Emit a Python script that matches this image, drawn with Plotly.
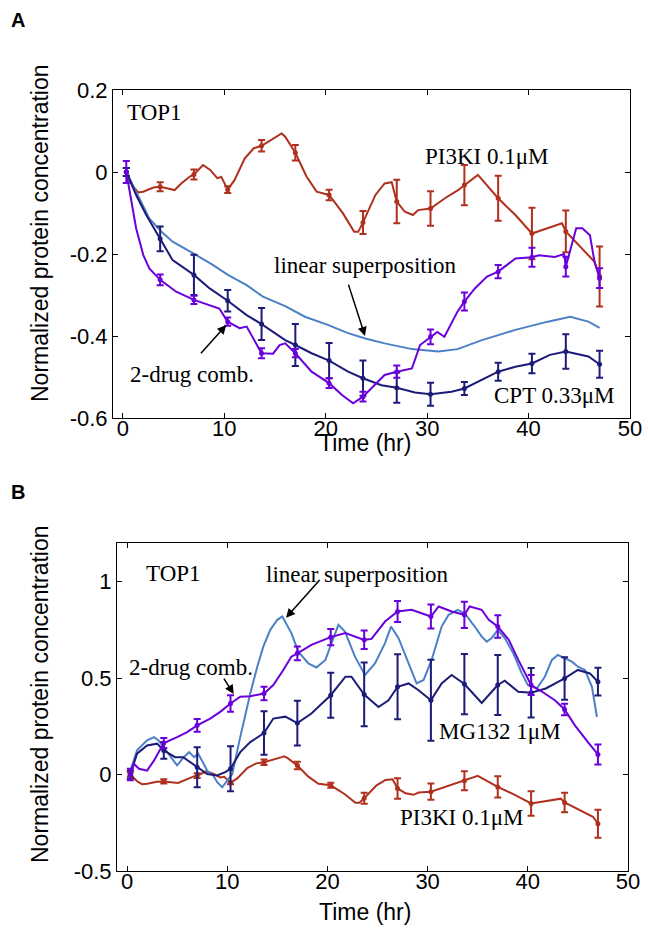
import plotly.graph_objects as go

# ---------------- data ----------------
t_err = [0.33, 3.67, 7.0, 10.33, 13.67, 17.0, 20.33, 23.67, 27.0, 30.33, 33.67, 37.0, 40.33, 43.67, 47.0]

# PI3KI 0.1uM (same in both panels)
pi3k_t = [0.33, 1.0, 1.5, 2.0, 3.0, 3.67, 5.1, 5.75, 6.6, 7.0, 7.9, 8.6, 9.3, 9.7, 10.33, 11.0, 12.0, 12.9,
          13.67, 15.45, 15.65, 16.0, 17.0, 18.1, 19.1, 20.33, 21.7, 22.8, 23.2, 23.67, 24.9, 25.8, 26.5, 27.0,
          27.8, 28.6, 29.1, 30.33, 31.75, 33.0, 33.67, 35.0, 37.0, 38.7, 40.33, 41.9, 43.3, 43.67, 45.2, 46.5, 47.0]
pi3k_v = [0.0, -0.035, -0.05, -0.048, -0.038, -0.036, -0.044, -0.028, -0.011, -0.006, 0.017, 0.005, -0.015,
          -0.012, -0.043, -0.02, 0.033, 0.058, 0.064, 0.09, 0.094, 0.086, 0.047, -0.011, -0.048, -0.056, -0.101,
          -0.146, -0.146, -0.123, -0.056, -0.028, -0.025, -0.072, -0.097, -0.105, -0.093, -0.089, -0.064, -0.045,
          -0.032, -0.007, -0.064, -0.105, -0.15, -0.137, -0.125, -0.145, -0.186, -0.219, -0.255]
pi3k_m = [0.0, -0.036, -0.006, -0.043, 0.064, 0.047, -0.056, -0.123, -0.072, -0.089, -0.032, -0.064, -0.15, -0.145, -0.255]
pi3k_e = [0.01, 0.011, 0.012, 0.008, 0.014, 0.019, 0.013, 0.028, 0.053, 0.042, 0.049, 0.055, 0.063, 0.051, 0.073]

# Panel A: CPT 0.33uM
cpt_t = [0.33, 1.3, 2.3, 3.67, 4.9, 7.0, 8.55, 10.33, 12.2, 13.67, 16.0, 17.0, 18.6, 20.33, 22.2, 23.67, 25.5,
         27.0, 28.8, 30.33, 32.4, 33.67, 35.4, 37.0, 38.7, 40.33, 42.1, 43.67, 45.9, 47.0]
cpt_v = [0.0, -0.056, -0.105, -0.163, -0.215, -0.251, -0.284, -0.314, -0.349, -0.371, -0.41, -0.422, -0.442,
         -0.46, -0.487, -0.503, -0.52, -0.526, -0.538, -0.542, -0.536, -0.528, -0.507, -0.487, -0.475, -0.467,
         -0.446, -0.438, -0.45, -0.469]
cpt_m = [0.0, -0.163, -0.251, -0.314, -0.371, -0.422, -0.46, -0.503, -0.526, -0.542, -0.528, -0.487, -0.467, -0.438, -0.469]
cpt_e = [0.01, 0.03, 0.049, 0.026, 0.039, 0.051, 0.043, 0.043, 0.037, 0.028, 0.016, 0.022, 0.024, 0.042, 0.033]

# Panel A: 2-drug combination
combA_t = [0.33, 0.65, 1.3, 2.0, 2.6, 3.67, 5.25, 7.0, 8.55, 9.5, 10.33, 11.5, 12.2, 13.0, 13.67, 14.8, 15.45,
           16.0, 17.0, 18.6, 20.33, 21.6, 22.7, 23.67, 24.85, 25.8, 27.0, 28.5, 29.3, 30.33, 31.0, 31.7, 33.0,
           33.67, 34.7, 35.9, 37.0, 38.7, 40.33, 41.0, 42.6, 43.5, 43.67, 44.25, 44.7, 45.3, 46.05, 46.5, 47.0]
combA_v = [0.0, -0.048, -0.137, -0.202, -0.235, -0.263, -0.292, -0.312, -0.324, -0.333, -0.365, -0.381, -0.377,
           -0.414, -0.442, -0.443, -0.422, -0.418, -0.442, -0.487, -0.515, -0.544, -0.564, -0.548, -0.52, -0.495,
           -0.487, -0.479, -0.422, -0.402, -0.39, -0.402, -0.34, -0.316, -0.284, -0.255, -0.243, -0.211, -0.208,
           -0.203, -0.207, -0.2, -0.231, -0.178, -0.137, -0.137, -0.154, -0.219, -0.259]
combA_m = [0.0, -0.263, -0.312, -0.365, -0.442, -0.442, -0.515, -0.548, -0.487, -0.402, -0.316, -0.243, -0.208, -0.231, -0.259]
combA_e = [0.027, 0.013, 0.01, 0.01, 0.012, 0.01, 0.012, 0.012, 0.015, 0.018, 0.022, 0.016, 0.023, 0.024, 0.024]

# Panel A: linear superposition
linA_t = [0.33, 1.6, 2.6, 3.8, 4.9, 6.9, 8.9, 10.35, 12.2, 13.8, 16.0, 17.95, 20.2, 22.2, 23.9, 25.8, 28.5,
          31.1, 33.0, 35.4, 38.7, 41.9, 44.1, 45.9, 47.0]
linA_v = [0.0, -0.064, -0.113, -0.146, -0.17, -0.198, -0.227, -0.251, -0.276, -0.304, -0.327, -0.353, -0.373,
          -0.393, -0.406, -0.418, -0.432, -0.438, -0.432, -0.41, -0.385, -0.365, -0.353, -0.365, -0.38]

# Panel B: MG132 1uM
mg_t = [0.33, 1.0, 2.0, 3.0, 3.67, 4.8, 5.6, 7.0, 8.0, 9.0, 9.8, 10.33, 11.3, 12.3, 13.67, 14.6, 15.8, 17.0,
        18.4, 20.33, 21.8, 22.4, 23.67, 25.1, 26.1, 27.0, 28.1, 29.1, 30.33, 31.4, 32.4, 33.67, 35.4, 37.0,
        37.7, 39.05, 40.33, 41.8, 43.67, 45.0, 46.2, 47.0]
mg_v = [0.0, 0.108, 0.151, 0.16, 0.125, 0.09, 0.09, 0.038, 0.003, -0.005, 0.012, 0.03, 0.116, 0.168, 0.215,
        0.29, 0.3, 0.267, 0.316, 0.411, 0.507, 0.507, 0.415, 0.35, 0.385, 0.455, 0.472, 0.437, 0.385, 0.472,
        0.516, 0.469, 0.371, 0.464, 0.486, 0.429, 0.424, 0.446, 0.498, 0.542, 0.524, 0.481]
mg_m = [0.0, 0.125, 0.038, 0.03, 0.215, 0.267, 0.411, 0.415, 0.455, 0.385, 0.469, 0.464, 0.424, 0.498, 0.481]
mg_e = [0.02, 0.043, 0.104, 0.117, 0.113, 0.116, 0.117, 0.165, 0.168, 0.21, 0.156, 0.155, 0.128, 0.11, 0.072]

# Panel B: 2-drug combination
combB_t = [0.33, 0.67, 1.2, 2.0, 2.7, 3.67, 5.0, 6.0, 7.0, 8.3, 9.3, 10.33, 11.3, 12.3, 13.67, 14.6, 15.6,
           16.4, 17.0, 18.4, 20.33, 21.8, 23.67, 24.4, 25.75, 27.0, 28.4, 30.33, 31.1, 32.4, 33.67, 34.2, 35.4,
           36.1, 37.0, 38.1, 39.05, 40.33, 41.7, 42.7, 43.67, 44.7, 46.0, 47.0]
combB_v = [0.0, 0.056, 0.03, 0.02, 0.073, 0.163, 0.194, 0.22, 0.255, 0.29, 0.325, 0.368, 0.403, 0.406, 0.42,
           0.464, 0.542, 0.611, 0.628, 0.672, 0.712, 0.733, 0.698, 0.703, 0.793, 0.845, 0.854, 0.819, 0.871,
           0.845, 0.828, 0.871, 0.854, 0.802, 0.767, 0.698, 0.594, 0.464, 0.42, 0.385, 0.337, 0.255, 0.168, 0.104]
combB_m = [0.0, 0.163, 0.255, 0.368, 0.42, 0.628, 0.712, 0.698, 0.845, 0.819, 0.828, 0.767, 0.464, 0.337, 0.104]
combB_e = [0.03, 0.026, 0.033, 0.043, 0.035, 0.036, 0.042, 0.048, 0.055, 0.062, 0.068, 0.058, 0.052, 0.03, 0.052]

# Panel B: linear superposition
linB_t = [0.33, 1.0, 2.0, 2.7, 3.15, 3.67, 4.3, 5.0, 5.66, 6.2, 6.7, 7.1, 7.65, 8.0, 8.6, 9.0, 9.5, 10.0, 10.5,
          11.3, 12.3, 13.0, 13.6, 14.3, 15.0, 15.5, 16.4, 17.1, 18.1, 18.9, 19.8, 20.6, 21.1, 21.75, 22.75,
          23.75, 24.75, 25.75, 26.35, 27.1, 28.1, 28.9, 29.6, 30.4, 31.4, 32.1, 33.0, 33.7, 34.7, 35.4, 35.9,
          36.4, 37.0, 37.7, 38.55, 39.4, 40.0, 40.9, 41.7, 42.4, 43.0, 43.7, 44.4, 45.0, 45.7, 46.4, 46.9]
linB_v = [0.02, 0.125, 0.177, 0.194, 0.177, 0.142, 0.099, 0.047, 0.09, 0.116, 0.09, 0.108, 0.056, 0.02,
          -0.005, -0.04, -0.066, -0.031, 0.003, 0.194, 0.42, 0.559, 0.663, 0.75, 0.802, 0.819, 0.733, 0.637,
          0.576, 0.555, 0.594, 0.707, 0.776, 0.741, 0.611, 0.516, 0.576, 0.681, 0.767, 0.707, 0.576, 0.472,
          0.49, 0.594, 0.767, 0.828, 0.854, 0.836, 0.767, 0.715, 0.689, 0.707, 0.75, 0.707, 0.628, 0.524,
          0.464, 0.446, 0.507, 0.594, 0.62, 0.603, 0.585, 0.559, 0.542, 0.455, 0.298]

# ---------------- style ----------------
RED = "#B0301E"
NAVY = "#1C1C78"
PURPLE = "#6A00DC"
LBLUE = "#4C80C6"
SANS = "Liberation Sans, Arial, sans-serif"
SERIF = "Liberation Serif, Times New Roman, serif"

fig = go.Figure()


def add_series(tl, vl, tm, vm, em, color, xa, ya, line_only=False):
    fig.add_trace(go.Scatter(x=tl, y=vl, mode="lines", line=dict(color=color, width=2),
                             xaxis=xa, yaxis=ya, showlegend=False, hoverinfo="skip"))
    if not line_only:
        fig.add_trace(go.Scatter(x=tm, y=vm, mode="markers",
                                 marker=dict(color=color, size=5),
                                 error_y=dict(type="data", array=em, visible=True, color=color,
                                              thickness=2, width=3.5),
                                 xaxis=xa, yaxis=ya, showlegend=False, hoverinfo="skip"))


# Panel A
add_series(pi3k_t, pi3k_v, t_err, pi3k_m, pi3k_e, RED, "x", "y")
add_series(linA_t, linA_v, None, None, None, LBLUE, "x", "y", line_only=True)
add_series(cpt_t, cpt_v, t_err, cpt_m, cpt_e, NAVY, "x", "y")
add_series(combA_t, combA_v, t_err, combA_m, combA_e, PURPLE, "x", "y")
# Panel B
add_series(pi3k_t, pi3k_v, t_err, pi3k_m, pi3k_e, RED, "x2", "y2")
add_series(linB_t, linB_v, None, None, None, LBLUE, "x2", "y2", line_only=True)
add_series(mg_t, mg_v, t_err, mg_m, mg_e, NAVY, "x2", "y2")
add_series(combB_t, combB_v, t_err, combB_m, combB_e, PURPLE, "x2", "y2")

W, H = 648, 931


def px_x(p):
    return p / W


def px_y(p):
    return 1 - p / H


axis_common = dict(showline=True, linecolor="black", linewidth=1, mirror="ticks", ticks="inside",
                   ticklen=5, tickcolor="black", tickwidth=1, showgrid=False, zeroline=False,
                   tickfont=dict(family=SANS, size=22, color="black"), automargin=False)

fig.update_layout(
    width=W, height=H, margin=dict(l=0, r=0, t=0, b=0),
    paper_bgcolor="white", plot_bgcolor="white",
    xaxis=dict(domain=[px_x(113), px_x(630)], range=[-0.98, 50], tickvals=[0, 10, 20, 30, 40, 50],
               anchor="y", ticklabelstandoff=-9, **axis_common),
    yaxis=dict(domain=[px_y(418), px_y(90)], range=[-0.6, 0.2], tickvals=[-0.6, -0.4, -0.2, 0, 0.2],
               ticktext=["-0.6", "-0.4", "-0.2", "0", "0.2"], anchor="x", **axis_common),
    xaxis2=dict(domain=[px_x(117), px_x(628)], range=[-1, 50], tickvals=[0, 10, 20, 30, 40, 50],
                anchor="y2", ticklabelstandoff=-9, **axis_common),
    yaxis2=dict(domain=[px_y(871), px_y(543)], range=[-0.5, 1.2], tickvals=[-0.5, 0, 0.5, 1],
                ticktext=["-0.5", "0", "0.5", "1"], anchor="x2", **axis_common),
)

ann = []


def txt(x, y, s, xref, yref, size=23, family=SERIF, **kw):
    ann.append(dict(x=x, y=y, xref=xref, yref=yref, text=s, showarrow=False,
                    xanchor="center", yanchor="middle",
                    font=dict(family=family, size=size, color="black"), **kw))


def arrow(xt, yt, xh, yh, xref, yref):
    ann.append(dict(x=xh, y=yh, ax=xt, ay=yt, xref=xref, yref=yref, axref=xref, ayref=yref,
                    text="", showarrow=True, arrowhead=2, arrowsize=1.2, arrowwidth=1.5,
                    arrowcolor="black", standoff=0, startstandoff=0))


# Panel A labels
txt(3.16, 0.144, "TOP1", "x", "y")
txt(35.9, 0.037, "PI3KI 0.1μM", "x", "y")
txt(23.87, -0.227, "linear superposition", "x", "y")
txt(6.8, -0.495, "2-drug comb.", "x", "y")
txt(42.6, -0.546, "CPT 0.33μM", "x", "y")
arrow(22.19, -0.271, 23.87, -0.40, "x", "y")
arrow(7.56, -0.446, 10.19, -0.373, "x", "y")
# Panel B labels
txt(4.59, 1.04, "TOP1", "x2", "y2")
txt(23.05, 1.036, "linear superposition", "x2", "y2")
txt(6.39, 0.557, "2-drug comb.", "x2", "y2")
txt(37.2, 0.224, "MG132 1μM", "x2", "y2")
txt(33.4, -0.224, "PI3KI 0.1μM", "x2", "y2")
arrow(19.36, 1.016, 15.87, 0.8125, "x2", "y2")
arrow(9.58, 0.505, 10.65, 0.417, "x2", "y2")

# axis titles & panel letters
txt(px_x(40), px_y(233), "Normalized protein concentration", "paper", "paper", size=23, family=SANS,
    textangle=-90)
txt(px_x(40), px_y(694), "Normalized protein concentration", "paper", "paper", size=23, family=SANS,
    textangle=-90)
txt(px_x(365), px_y(443), "Time (hr)", "paper", "paper", size=23, family=SANS)
txt(px_x(365), px_y(912), "Time (hr)", "paper", "paper", size=23, family=SANS)
txt(px_x(18), px_y(20), "<b>A</b>", "paper", "paper", size=20, family=SANS)
txt(px_x(18), px_y(492), "<b>B</b>", "paper", "paper", size=20, family=SANS)

fig.update_layout(annotations=ann)
fig.write_html("out.html", config={"displayModeBar": False},
               post_script="document.body.style.margin='0px';document.body.style.overflow='hidden';")
